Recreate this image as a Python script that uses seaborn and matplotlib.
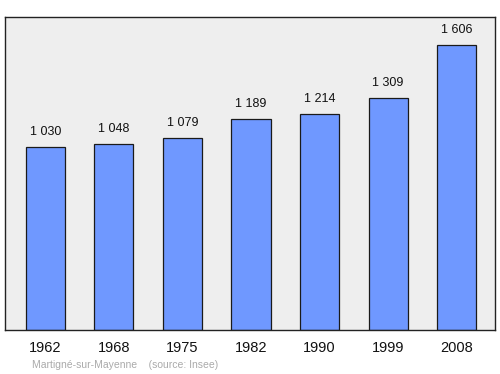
import matplotlib
matplotlib.use("Agg")
import matplotlib.pyplot as plt
import seaborn as sns
import pandas as pd

years = ["1962", "1968", "1975", "1982", "1990", "1999", "2008"]
population = [1030, 1048, 1079, 1189, 1214, 1309, 1606]
labels = ["1 030", "1 048", "1 079", "1 189", "1 214", "1 309", "1 606"]

sns.set_theme(style="white")
plt.rcParams['font.family'] = ['Liberation Sans', 'DejaVu Sans']

df = pd.DataFrame({"year": years, "pop": population})

fig = plt.figure(figsize=(5.0, 3.74), dpi=100)
ax = fig.add_axes([0.01, 0.1176, 0.98, 0.837])
ax.set_facecolor("#eeeeee")
sns.barplot(data=df, x="year", y="pop", color="#6f98ff", saturation=1,
            width=0.57, edgecolor="#1a1a1a", linewidth=0.9, ax=ax)
ax.bar_label(ax.containers[0], labels=labels, padding=6.5, fontsize=9, color="#111111")
ax.set_xlim(-0.59, 6.56)
ax.set_ylim(0, 1763)
ax.set_yticks([])
ax.set_xlabel("")
ax.set_ylabel("")
ax.tick_params(axis="x", length=0, labelsize=10.5, pad=8, colors="#111111")
for s in ax.spines.values():
    s.set_visible(True)
    s.set_color("#222222")
    s.set_linewidth(1.0)
fig.text(0.064, 0.015, "Martigné-sur-Mayenne    (source: Insee)", fontsize=7.5, color="#aaaaaa")
fig.savefig("out.png", dpi=100)
